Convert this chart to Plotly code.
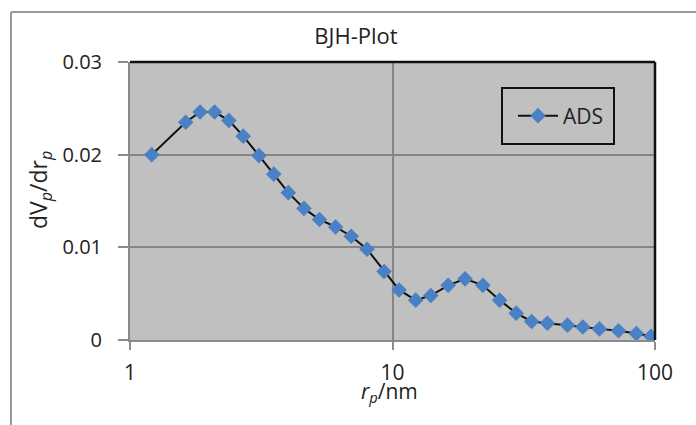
import plotly.graph_objects as go

# Data
pore_radius_nm = [1.21, 1.63, 1.85, 2.10, 2.38, 2.70, 3.10, 3.53, 4.01, 4.60, 5.27,
                  6.07, 6.96, 8.00, 9.29, 10.6, 12.25, 14.0, 16.3, 18.9, 22.1,
                  25.6, 29.6, 33.9, 38.9, 46.4, 53.1, 61.4, 72.6, 84.9, 96.6]
dv_dr = [0.0200, 0.0235, 0.0246, 0.0246, 0.0237, 0.0220, 0.0199, 0.0179, 0.0159, 0.0142, 0.0130,
         0.0122, 0.0112, 0.0098, 0.0074, 0.0054, 0.0043, 0.0048, 0.0059, 0.0066, 0.0059,
         0.0043, 0.0029, 0.0020, 0.0018, 0.0016, 0.0014, 0.0012, 0.0010, 0.0007, 0.0004]
series_name = "ADS"
x_tickvals = [1, 10, 100]
x_ticktext = ["1", "10", "100"]
y_tickvals = [0, 0.01, 0.02, 0.03]
y_ticktext = ["0", "0.01", "0.02", "0.03"]

FONT = "Open Sans"
TXT = "#222222"

fig = go.Figure()
fig.add_trace(go.Scatter(
    x=pore_radius_nm, y=dv_dr, mode="lines+markers", name=series_name,
    line=dict(color="#111111", width=2),
    marker=dict(symbol="diamond", size=12, color="#4a80c4",
                line=dict(width=0)),
))

fig.update_layout(
    width=696, height=425,
    margin=dict(l=130, r=41, t=62, b=85),
    paper_bgcolor="white",
    plot_bgcolor="#c0c0c0",
    font=dict(family=FONT, size=20, color=TXT),
    title=dict(text="BJH-Plot", x=356 / 696, xanchor="center",
               y=1 - 36 / 425, yanchor="middle",
               font=dict(family=FONT, size=22, color=TXT)),
    showlegend=True,
    legend=dict(x=(513 - 130) / 525, y=(340 - 116) / 278, xanchor="left", yanchor="middle",
                bgcolor="rgba(0,0,0,0)", borderwidth=0,
                font=dict(family=FONT, size=21, color=TXT),
                itemwidth=40),
    xaxis=dict(type="log", range=[0, 2], tickvals=x_tickvals, ticktext=x_ticktext,
               showgrid=True, gridcolor="#868686", gridwidth=1.5,
               showline=True, linecolor="#8a8a8a", linewidth=2,
               ticks="outside", ticklen=8, tickcolor="#8a8a8a", tickwidth=1.5,
               ticklabelstandoff=5,
               tickfont=dict(family=FONT, size=21, color=TXT),
               zeroline=False, mirror=False),
    yaxis=dict(range=[0, 0.03], tickvals=y_tickvals, ticktext=y_ticktext,
               showgrid=True, gridcolor="#868686", gridwidth=1.5,
               showline=True, linecolor="#8a8a8a", linewidth=2,
               ticks="outside", ticklen=10, tickcolor="#8a8a8a", tickwidth=1.5,
               ticklabelstandoff=12,
               tickfont=dict(family=FONT, size=20, color=TXT),
               zeroline=False),
)

# Black top and right plot borders
fig.add_shape(type="line", xref="paper", yref="paper", x0=0, x1=1, y0=1, y1=1,
              line=dict(color="#111111", width=2.5))
fig.add_shape(type="line", xref="paper", yref="paper", x0=1, x1=1, y0=0, y1=1,
              line=dict(color="#111111", width=2.5))
# Legend frame
fig.add_shape(type="rect", xref="paper", yref="paper",
              x0=(502 - 130) / 525, x1=(614 - 130) / 525,
              y0=(340 - 144) / 278, y1=(340 - 88) / 278,
              line=dict(color="#111111", width=2), fillcolor="rgba(0,0,0,0)")
# Outer chart frame (left and top edges visible; rest cropped)
fig.add_shape(type="line", xref="paper", yref="paper",
              x0=(11 - 130) / 525, x1=(11 - 130) / 525, y0=-0.35, y1=(340 - 12) / 278,
              line=dict(color="#9a9a9a", width=2), layer="below")
fig.add_shape(type="line", xref="paper", yref="paper",
              x0=(11 - 130) / 525, x1=1.2, y0=(340 - 12) / 278, y1=(340 - 12) / 278,
              line=dict(color="#9a9a9a", width=2), layer="below")

# Axis titles
fig.add_annotation(text="<i>r</i><sub><i>p</i></sub>/nm", xref="paper", yref="paper",
                   x=(389 - 130) / 525, y=(340 - 392) / 278, showarrow=False,
                   font=dict(family=FONT, size=21, color=TXT),
                   xanchor="center", yanchor="middle")
fig.add_annotation(text="dV<sub><i>p</i></sub>/dr<sub><i>p</i></sub>", xref="paper", yref="paper",
                   x=(39 - 130) / 525, y=(340 - 190) / 278, showarrow=False, textangle=-90,
                   font=dict(family=FONT, size=23, color=TXT),
                   xanchor="center", yanchor="middle")

fig.write_html("out.html")
